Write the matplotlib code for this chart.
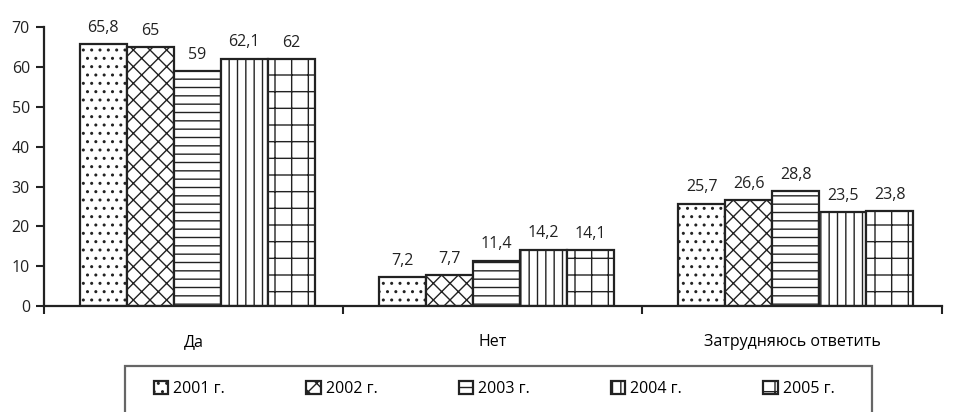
import numpy as np
import matplotlib.pyplot as plt
from matplotlib.patches import Rectangle

categories = ['Да', 'Нет', 'Затрудняюсь ответить']
years = ['2001 г.', '2002 г.', '2003 г.', '2004 г.', '2005 г.']
values = [
    [65.8, 7.2, 25.7],
    [65, 7.7, 26.6],
    [59, 11.4, 28.8],
    [62.1, 14.2, 23.5],
    [62, 14.1, 23.8],
]
hatches = ['..', 'xx', '--', '||', '+']

plt.rcParams['font.family'] = ['Open Sans', 'DejaVu Sans']
plt.rcParams['hatch.linewidth'] = 1.0
plt.rcParams['hatch.color'] = '#222222'

fig = plt.figure(figsize=(9.54, 4.12), dpi=100)
ax = fig.add_axes([0.046, 0.257, 0.941, 0.677])

x = np.arange(len(categories))
w = 0.157
for i, (yr, vals) in enumerate(zip(years, values)):
    bars = ax.bar(x + (i - 2) * w + 0.012, vals, w, color='white', edgecolor='#222222',
                  linewidth=1.6, hatch=hatches[i], label=yr)
    labels = [str(v).replace('.', ',') if v != int(v) else str(int(v)) for v in vals]
    ax.bar_label(bars, labels=labels, padding=6, fontsize=11.5, color='#222222')

ax.set_xlim(-0.5, 2.5)
ax.set_ylim(0, 70)
ax.set_yticks(range(0, 71, 10))
ax.set_xticks([-0.5, 0.5, 1.5, 2.5], minor=False)
ax.set_xticklabels([])
ax.set_xticks(x, minor=True)
ax.set_xticklabels(categories, minor=True, fontsize=11.5)
ax.tick_params(axis='x', which='minor', length=0, pad=20)
ax.tick_params(axis='x', which='major', length=6, direction='out', width=1.5, colors='#222222')
ax.tick_params(axis='y', length=6, direction='out', width=1.5, labelsize=11.5, pad=4)
ax.tick_params(axis='y', colors='#222222')
for s in ['top', 'right']:
    ax.spines[s].set_visible(False)
for s in ['left', 'bottom']:
    ax.spines[s].set_linewidth(1.6)
    ax.spines[s].set_color('#222222')

# legend box (runs off the bottom edge like in the original)
fig.patches.append(Rectangle((125 / 954, -0.05), 747 / 954, 0.05 + 46 / 412,
                             transform=fig.transFigure, facecolor='white',
                             edgecolor='#666666', linewidth=1.6, zorder=0))
leg = fig.legend(loc='center', bbox_to_anchor=(0.518, 0.056), ncol=5, frameon=False,
                 fontsize=11.5, handlelength=0.9, handleheight=0.9, handletextpad=0.3,
                 columnspacing=5.1, borderaxespad=0)

fig.savefig('out.png', dpi=100)
